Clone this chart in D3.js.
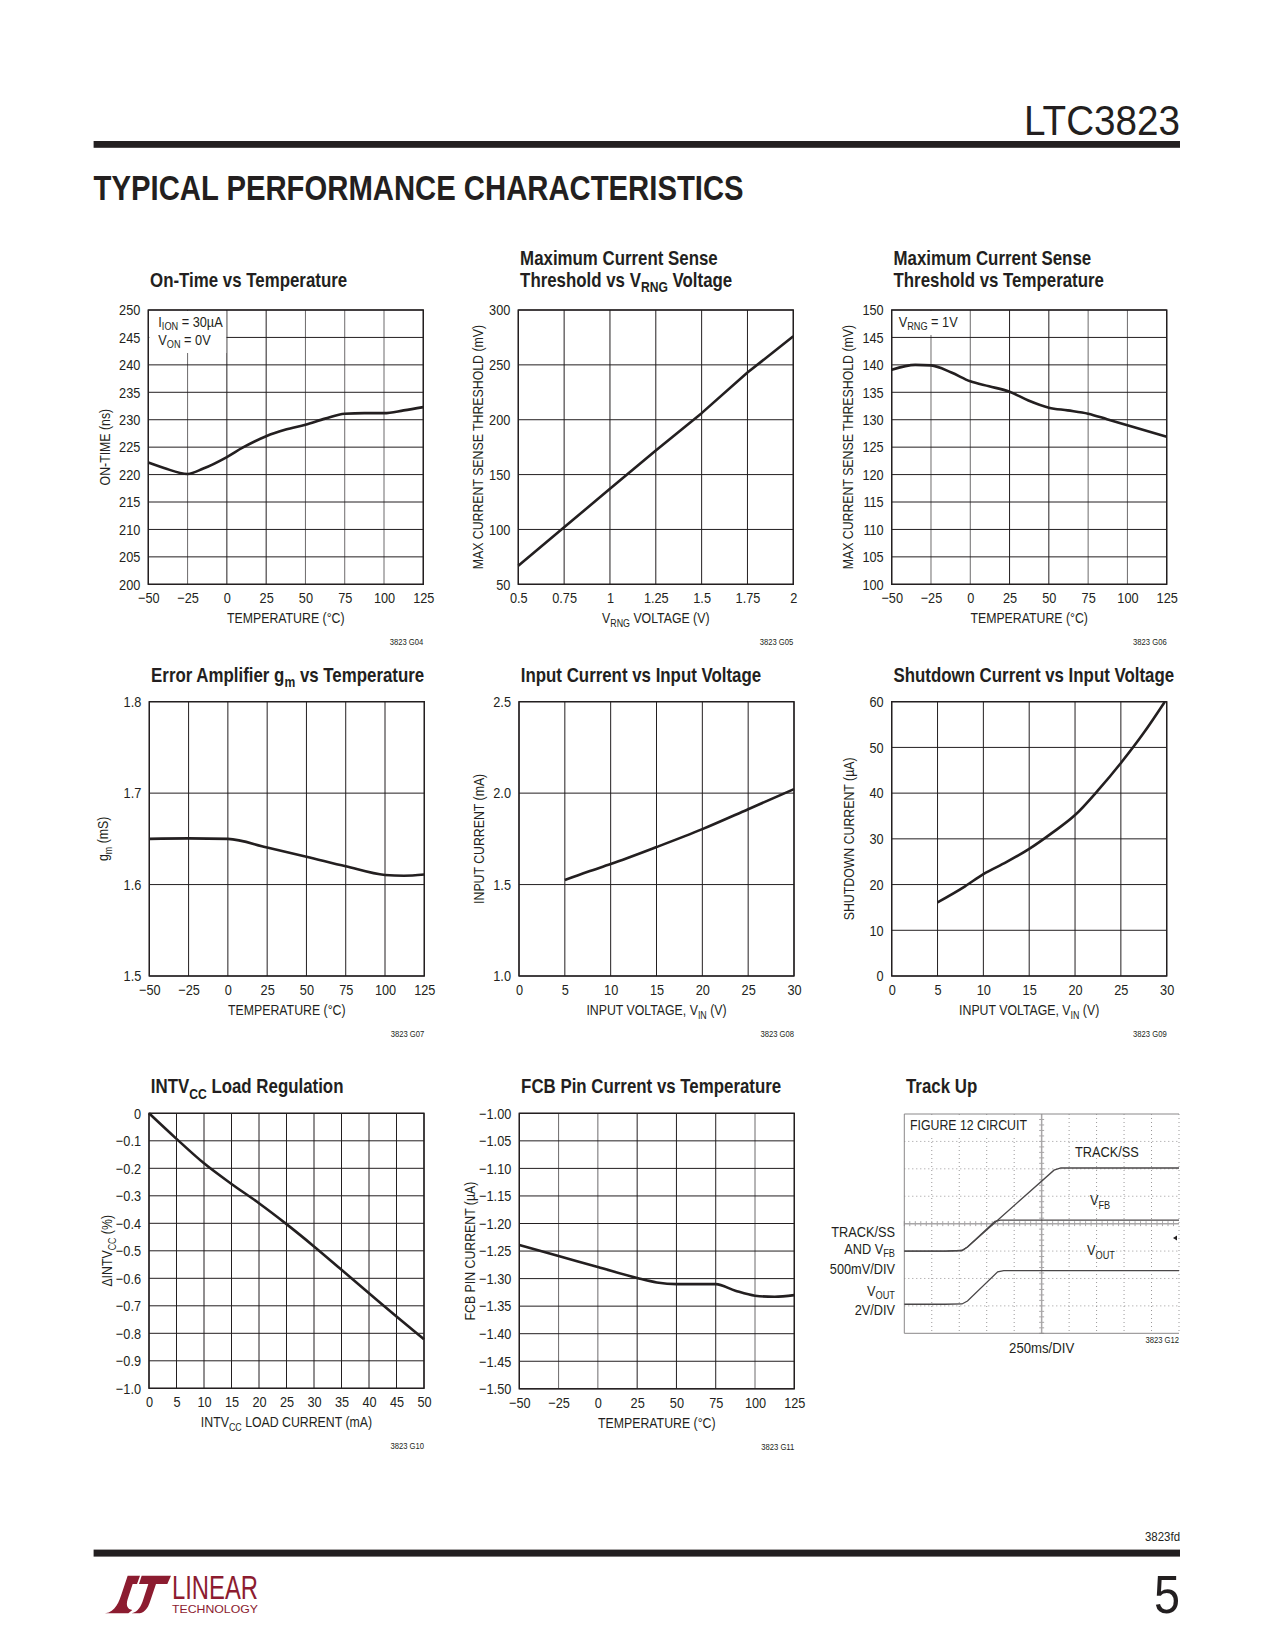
<!DOCTYPE html>
<html><head><meta charset="utf-8">
<script src="https://cdn.jsdelivr.net/npm/d3@7"></script>
<style>
body{margin:0;background:#fff}
svg text{font-family:"Liberation Sans Narrow","Liberation Sans",Arial,sans-serif;fill:#231f20}
</style>
</head><body>
<svg id="page" width="1275" height="1650"></svg>
<script>
// ---------------- DATA ----------------
// G04 On-Time vs Temperature
const g04Temp = [-50,-40,-25,-15,0,10,25,37.5,50,62.5,75,87.5,100,112.5,125];
const g04OnTime = [222.2,221.2,220.1,221.1,223.2,224.9,227.0,228.2,229.1,230.2,231.1,231.2,231.2,231.7,232.3];
const g04XTicks = [-50,-25,0,25,50,75,100,125];
const g04YTicks = [200,205,210,215,220,225,230,235,240,245,250];
// G05 Max current sense threshold vs VRNG
const g05Vrng = [0.5,0.75,1,1.25,1.5,1.75,2];
const g05Thr = [67,102,137,172,206,243,276];
const g05XTicks = [0.5,0.75,1,1.25,1.5,1.75,2];
const g05YTicks = [50,100,150,200,250,300];
// G06 Max current sense threshold vs Temperature
const g06Temp = [-50,-35,-25,-12,0,12,25,37,50,62,75,87,100,125];
const g06Thr = [139.1,140.0,139.9,138.6,137.0,136.1,135.1,133.5,132.2,131.7,131.1,130.1,129.0,126.9];
const g06YTicks = [100,105,110,115,120,125,130,135,140,145,150];
// G07 Error amplifier gm vs Temperature
const g07Temp = [-50,-25,0,25,50,75,100,112,125];
const g07Gm = [1.650,1.6505,1.650,1.6405,1.6305,1.620,1.6105,1.6097,1.611];
const g07YTicks = [1.5,1.6,1.7,1.8];
// G08 Input current vs input voltage
const g08Vin = [5,7.5,10,15,20,25,30];
const g08Iin = [1.525,1.570,1.612,1.705,1.803,1.912,2.022];
const vinTicks = [0,5,10,15,20,25,30];
const g08YTicks = [1.0,1.5,2.0,2.5];
// G09 Shutdown current vs input voltage
const g09Vin = [5,8,10,12.5,15,17.5,20,22.5,25,27.5,29.8];
const g09Isd = [16.1,19.6,22.3,24.9,27.8,31.3,35.2,40.6,46.6,53.2,60.0];
const g09YTicks = [0,10,20,30,40,50,60];
// G10 INTVCC load regulation
const g10Load = [0,5,10,15,20,25,30,35,40,45,50];
const g10Delta = [0,-0.093,-0.182,-0.257,-0.327,-0.403,-0.484,-0.569,-0.654,-0.739,-0.822];
const g10XTicks = [0,5,10,15,20,25,30,35,40,45,50];
const g10YTicks = [0,-0.1,-0.2,-0.3,-0.4,-0.5,-0.6,-0.7,-0.8,-0.9,-1.0];
// G11 FCB pin current vs temperature
const g11Temp = [-50,-25,0,25,37.5,50,62.5,75,87.5,100,112.5,125];
const g11Ifcb = [-1.239,-1.259,-1.279,-1.299,-1.307,-1.310,-1.310,-1.310,-1.322,-1.331,-1.333,-1.330];
const g11YTicks = [-1.00,-1.05,-1.10,-1.15,-1.20,-1.25,-1.30,-1.35,-1.40,-1.45,-1.50];
// G12 Track up scope traces (divisions: x 0..10, y 0..8)
const trackX = [0,1.5,2.1,2.3,5.45,5.7,10];
const trackY = [3.0,3.0,3.02,3.15,5.95,6.03,6.03];
const vfbX = [0,1.5,2.1,2.3,3.3,3.5,10];
const vfbY = [3.0,3.0,3.02,3.15,4.08,4.13,4.13];
const voutX = [0,1.5,2.1,2.3,3.4,3.62,10];
const voutY = [1.06,1.06,1.07,1.18,2.24,2.29,2.29];

// ---------------- DRAWING ----------------
const svg = d3.select('#page');
svg.append('rect').attr('width',1275).attr('height',1650).attr('fill','#fff');
const INK = '#231f20';
const minus = v => (v < 0 ? '\u2212' + String(Math.abs(v)) : String(v));
const fmtFixed = n => v => (v < 0 ? '\u2212' + Math.abs(v).toFixed(n) : v.toFixed(n));

function rich(sel, str, size, shift) {
  const s = shift || 0.28;
  const parts = str.split(/(_\{[^}]*\})/).filter(p => p.length);
  let sub = false;
  parts.forEach(p => {
    if (p.startsWith('_{')) {
      sel.append('tspan').attr('font-size', size * 0.72).attr('dy', size * s).text(p.slice(2, -1));
      sub = true;
    } else {
      const t = sel.append('tspan').text(p);
      if (sub) { t.attr('dy', -size * s); sub = false; }
    }
  });
  return sel;
}

function chart(c) {
  const g = svg.append('g');
  const W = 275, H = c.H;
  const x = d3.scaleLinear().domain(c.xd).range([c.L, c.L + W]);
  const y = d3.scaleLinear().domain(c.yd).range([c.T + H, c.T]);
  // grid
  g.append('g').selectAll('line').data(c.xt).join('line')
    .attr('x1', d => x(d)).attr('x2', d => x(d)).attr('y1', c.T).attr('y2', c.T + H)
    .attr('stroke', d => (c.grayX && c.grayX.includes(d)) ? '#6d6b6c' : INK).attr('stroke-width', 1);
  g.append('g').selectAll('line').data(c.yt).join('line')
    .attr('x1', c.L).attr('x2', c.L + W).attr('y1', d => y(d)).attr('y2', d => y(d))
    .attr('stroke', INK).attr('stroke-width', 1);
  // legend box
  if (c.legend) {
    g.append('rect').attr('x', c.L + 1).attr('y', c.T + 1)
      .attr('width', c.legend.w).attr('height', c.legend.h).attr('fill', '#fff');
    c.legend.lines.forEach((s, i) => {
      rich(g.append('text').attr('x', c.L + c.legend.tx).attr('y', c.T + c.legend.ty + i * 18.5)
        .attr('font-size', 15), s, 15, 0.2);
    });
  }
  // frame
  g.append('rect').attr('x', c.L).attr('y', c.T).attr('width', W).attr('height', H)
    .attr('fill', 'none').attr('stroke', INK).attr('stroke-width', 1.4);
  // data
  const pts = c.xs.map((v, i) => [v, c.ys[i]]);
  g.append('path').datum(pts)
    .attr('d', d3.line().x(d => x(d[0])).y(d => y(d[1])).curve(c.curve || d3.curveMonotoneX))
    .attr('fill', 'none').attr('stroke', INK).attr('stroke-width', 2.6)
    .attr('stroke-linejoin', 'round').attr('stroke-linecap', 'butt');
  // axes labels
  const ax = g.append('g').attr('transform', `translate(0,${c.T + H})`)
    .call(d3.axisBottom(x).tickValues(c.xt).tickFormat(c.xf || minus).tickSize(0).tickPadding(8.5));
  ax.select('.domain').remove();
  ax.attr('font-size', 15).attr('font-family', null).attr('color', INK);
  const ay = g.append('g').attr('transform', `translate(${c.L},0)`)
    .call(d3.axisLeft(y).tickValues(c.yt).tickFormat(c.yf || minus).tickSize(0).tickPadding(8));
  ay.select('.domain').remove();
  ay.attr('font-size', 15).attr('font-family', null).attr('color', INK);
  // axis titles
  rich(g.append('text').attr('x', c.L + W / 2).attr('y', c.T + H + 39)
    .attr('text-anchor', 'middle').attr('font-size', 14.5), c.xTitle, 14.5);
  const yx = c.L - (c.yOff || 43) + 5, yy = c.T + H / 2;
  rich(g.append('text').attr('transform', `translate(${yx},${yy}) rotate(-90)`)
    .attr('text-anchor', 'middle').attr('font-size', 14.5), c.yTitle, 14.5);
  // title
  const tb = c.T - c.titleGap;
  c.title.forEach((s, i, arr) => {
    rich(g.append('text').attr('x', c.L + 1.8).attr('y', tb - (arr.length - 1 - i) * 22)
      .attr('font-size', 19.5).attr('font-weight', 'bold'), s, 19.5);
  });
  // code
  g.append('text').attr('x', c.L + W).attr('y', c.T + H + 61).attr('text-anchor', 'end')
    .attr('font-size', 9).text(c.code);
}

const tempTicks = [-50,-25,0,25,50,75,100,125];

chart({L:148.3, T:310, H:274.3, xd:[-50,125], yd:[200,250], xt:tempTicks, yt:g04YTicks,
  xs:g04Temp, ys:g04OnTime, xTitle:'TEMPERATURE (°C)', yTitle:'ON-TIME (ns)', yOff:43,
  title:['On-Time vs Temperature'], titleGap:23, code:'3823 G04', grayX:[-25,50,75,100],
  legend:{w:77, h:42, tx:10, ty:17, lines:['I_{ION} = 30µA','V_{ON} = 0V']}});

chart({L:518.3, T:310, H:274.3, xd:[0.5,2], yd:[50,300], xt:g05XTicks, yt:g05YTicks,
  xs:g05Vrng, ys:g05Thr, xTitle:'V_{RNG} VOLTAGE (V)', yTitle:'MAX CURRENT SENSE THRESHOLD (mV)', yOff:40,
  title:['Maximum Current Sense','Threshold vs V_{RNG} Voltage'], titleGap:23, code:'3823 G05',
  curve:d3.curveLinear});

chart({L:891.7, T:310, H:274.3, xd:[-50,125], yd:[100,150], xt:tempTicks, yt:g06YTicks,
  xs:g06Temp, ys:g06Thr, xTitle:'TEMPERATURE (°C)', yTitle:'MAX CURRENT SENSE THRESHOLD (mV)', yOff:43.5,
  title:['Maximum Current Sense','Threshold vs Temperature'], titleGap:23, code:'3823 G06', grayX:[-25,0,75,100],
  legend:{w:73, h:24, tx:7, ty:17, lines:['V_{RNG} = 1V']}});

chart({L:149.3, T:701.7, H:274.3, xd:[-50,125], yd:[1.5,1.8], xt:tempTicks, yt:g07YTicks,
  xs:g07Temp, ys:g07Gm, xTitle:'TEMPERATURE (°C)', yTitle:'g_{m} (mS)', yOff:46, yf:fmtFixed(1),
  title:['Error Amplifier g_{m} vs Temperature'], titleGap:20, code:'3823 G07'});

chart({L:519, T:701.7, H:274.3, xd:[0,30], yd:[1.0,2.5], xt:vinTicks, yt:g08YTicks,
  xs:g08Vin, ys:g08Iin, xTitle:'INPUT VOLTAGE, V_{IN} (V)', yTitle:'INPUT CURRENT (mA)', yOff:40.5, yf:fmtFixed(1),
  title:['Input Current vs Input Voltage'], titleGap:20, code:'3823 G08'});

chart({L:891.7, T:701.7, H:274.3, xd:[0,30], yd:[0,60], xt:vinTicks, yt:g09YTicks,
  xs:g09Vin, ys:g09Isd, xTitle:'INPUT VOLTAGE, V_{IN} (V)', yTitle:'SHUTDOWN CURRENT (µA)', yOff:42.5,
  title:['Shutdown Current vs Input Voltage'], titleGap:20, code:'3823 G09'});

chart({L:149, T:1113.3, H:275, xd:[0,50], yd:[-1,0], xt:g10XTicks, yt:g10YTicks,
  xs:g10Load, ys:g10Delta, xTitle:'INTV_{CC} LOAD CURRENT (mA)', yTitle:'\u0394INTV_{CC} (%)', yOff:42.3,
  yf:v => v === 0 ? '0' : fmtFixed(1)(v),
  title:['INTV_{CC} Load Regulation'], titleGap:20, code:'3823 G10', curve:d3.curveMonotoneX});

chart({L:519.3, T:1113.3, H:275.5, xd:[-50,125], yd:[-1.5,-1.0], xt:tempTicks, yt:g11YTicks,
  xs:g11Temp, ys:g11Ifcb, xTitle:'TEMPERATURE (°C)', yTitle:'FCB PIN CURRENT (µA)', yOff:49, yf:fmtFixed(2),
  title:['FCB Pin Current vs Temperature'], titleGap:20, code:'3823 G11', grayX:[-25,0,100]});

// ---- Track Up scope ----
(function(){
  const L = 904.3, T = 1114, W = 274.7, H = 219.3;
  const g = svg.append('g');
  const xs = d3.scaleLinear().domain([0,10]).range([L, L + W]);
  const ys = d3.scaleLinear().domain([0,8]).range([T + H, T]);
  const divX = d3.range(1, 11), divY = d3.range(1, 8);
  g.append('g').selectAll('line').data(divX.filter(d => d !== 5)).join('line')
    .attr('x1', d => xs(d)).attr('x2', d => xs(d)).attr('y1', T).attr('y2', T + H)
    .attr('stroke', '#9a9899').attr('stroke-width', 1).attr('stroke-dasharray', '1,3');
  g.append('g').selectAll('line').data(divY.filter(d => d !== 4)).join('line')
    .attr('x1', L).attr('x2', L + W).attr('y1', d => ys(d)).attr('y2', d => ys(d))
    .attr('stroke', '#9a9899').attr('stroke-width', 1).attr('stroke-dasharray', '1,3');
  // centre axes with minor ticks
  g.append('line').attr('x1', xs(5)).attr('x2', xs(5)).attr('y1', T).attr('y2', T + H)
    .attr('stroke', '#a8a6a7').attr('stroke-width', 1.5);
  g.append('line').attr('x1', L).attr('x2', L + W).attr('y1', ys(4)).attr('y2', ys(4))
    .attr('stroke', '#a8a6a7').attr('stroke-width', 1.5);
  const minorX = d3.range(0, 50).map(i => i / 5), minorY = d3.range(0, 40).map(i => i / 5);
  g.append('g').selectAll('line').data(minorX).join('line')
    .attr('x1', d => xs(d)).attr('x2', d => xs(d)).attr('y1', ys(4) - 2.5).attr('y2', ys(4) + 2.5)
    .attr('stroke', '#a8a6a7').attr('stroke-width', 1);
  g.append('g').selectAll('line').data(minorY).join('line')
    .attr('x1', xs(5) - 2.5).attr('x2', xs(5) + 2.5).attr('y1', d => ys(d)).attr('y2', d => ys(d))
    .attr('stroke', '#a8a6a7').attr('stroke-width', 1);
  // border left/top/bottom
  g.append('path').attr('d', `M${L + W},${T}H${L}V${T + H}H${L + W}`)
    .attr('fill', 'none').attr('stroke', '#8a8889').attr('stroke-width', 1);
  // label inside
  g.append('rect').attr('x', L + 1).attr('y', T + 1).attr('width', 118).attr('height', 20).attr('fill', '#fff');
  g.append('text').attr('x', 910).attr('y', 1130).attr('font-size', 14.5).text('FIGURE 12 CIRCUIT');
  // traces
  const line = d3.line().x(d => xs(d[0])).y(d => ys(d[1]));
  [[trackX, trackY], [vfbX, vfbY], [voutX, voutY]].forEach(([a, b]) => {
    g.append('path').datum(a.map((v, i) => [v, b[i]])).attr('d', line)
      .attr('fill', 'none').attr('stroke', '#4a4748').attr('stroke-width', 1.3);
  });
  // trace labels
  g.append('text').attr('x', 1075).attr('y', 1157).attr('font-size', 15).text('TRACK/SS');
  rich(g.append('text').attr('x', 1090).attr('y', 1205).attr('font-size', 15), 'V_{FB}', 15);
  rich(g.append('text').attr('x', 1087).attr('y', 1255).attr('font-size', 15), 'V_{OUT}', 15);
  // left scale labels
  const lx = 895;
  g.append('text').attr('x', lx).attr('y', 1237).attr('text-anchor', 'end').attr('font-size', 15).text('TRACK/SS');
  rich(g.append('text').attr('x', lx).attr('y', 1254).attr('text-anchor', 'end').attr('font-size', 15), 'AND V_{FB}', 15, 0.2);
  g.append('text').attr('x', lx).attr('y', 1274).attr('text-anchor', 'end').attr('font-size', 15).text('500mV/DIV');
  rich(g.append('text').attr('x', lx).attr('y', 1296).attr('text-anchor', 'end').attr('font-size', 15), 'V_{OUT}', 15, 0.2);
  g.append('text').attr('x', lx).attr('y', 1315).attr('text-anchor', 'end').attr('font-size', 15).text('2V/DIV');
  // marker
  g.append('path').attr('d', 'M1173,1238 L1177,1235.5 L1177,1240.5 Z').attr('fill', INK);
  // bottom text
  g.append('text').attr('x', xs(5)).attr('y', 1353).attr('text-anchor', 'middle').attr('font-size', 15.5).text('250ms/DIV');
  g.append('text').attr('x', L + W).attr('y', 1343).attr('text-anchor', 'end').attr('font-size', 9).text('3823 G12');
  g.append('text').attr('x', 906).attr('y', 1093).attr('font-size', 19.5).attr('font-weight', 'bold').text('Track Up');
})();

// ---- condense chart text horizontally (narrow face emulation) ----
svg.selectAll('text').each(function(){
  const el = this;
  const bold = el.getAttribute('font-weight') === 'bold';
  const k = bold ? 0.865 : 0.85;
  const ax = +(el.getAttribute('x') || 0);
  const prev = el.getAttribute('transform') || '';
  el.setAttribute('transform', `${prev} translate(${ax},0) scale(${k},1) translate(${-ax},0)`.trim());
});

// ---- header / footer ----
svg.append('text').attr('x', 1180).attr('y', 135).attr('text-anchor', 'end').attr('font-size', 42)
  .attr('textLength', 156).attr('lengthAdjust', 'spacingAndGlyphs').text('LTC3823');
svg.append('rect').attr('x', 93.6).attr('y', 141).attr('width', 1086.4).attr('height', 6.8).attr('fill', INK);
svg.append('text').attr('x', 93.6).attr('y', 200).attr('font-size', 35).attr('font-weight', 'bold')
  .attr('textLength', 650).attr('lengthAdjust', 'spacingAndGlyphs').text('TYPICAL PERFORMANCE CHARACTERISTICS');

svg.append('text').attr('x', 1180).attr('y', 1541).attr('text-anchor', 'end').attr('font-size', 12)
  .attr('textLength', 35).attr('lengthAdjust', 'spacingAndGlyphs').text('3823fd');
svg.append('rect').attr('x', 93.6).attr('y', 1549.6).attr('width', 1086.4).attr('height', 7).attr('fill', INK);
svg.append('text').attr('x', 1180).attr('y', 1613).attr('text-anchor', 'end').attr('font-size', 54)
  .attr('textLength', 26).attr('lengthAdjust', 'spacingAndGlyphs').text('5');

// logo
(function(){
  const red = '#8c1c30';
  const lg = svg.append('g').attr('transform', 'translate(85,1560) scale(0.3333)');
  lg.append('path').attr('fill', red)
    .attr('d', 'M60,160 C92,156 102,125 112,95 L128,47 L165,47 L156,72 L143,72 L128,118 C122,138 128,148 142,150 L130,160 Z');
  lg.append('path').attr('fill', red)
    .attr('d', 'M170,47 L258,47 L247,72 L213,72 L196,122 C188,148 176,160 158,160 L140,160 C160,155 168,140 175,118 L190,72 L162,72 Z');
  svg.append('text').attr('x', 172).attr('y', 1599).attr('font-size', 34)
    .style('fill', red).attr('textLength', 86).attr('lengthAdjust', 'spacingAndGlyphs').text('LINEAR');
  svg.append('text').attr('x', 172).attr('y', 1612.7).attr('font-size', 11).style('fill', red)
    .attr('textLength', 86).attr('lengthAdjust', 'spacingAndGlyphs').text('TECHNOLOGY');
})();
</script>
</body></html>
